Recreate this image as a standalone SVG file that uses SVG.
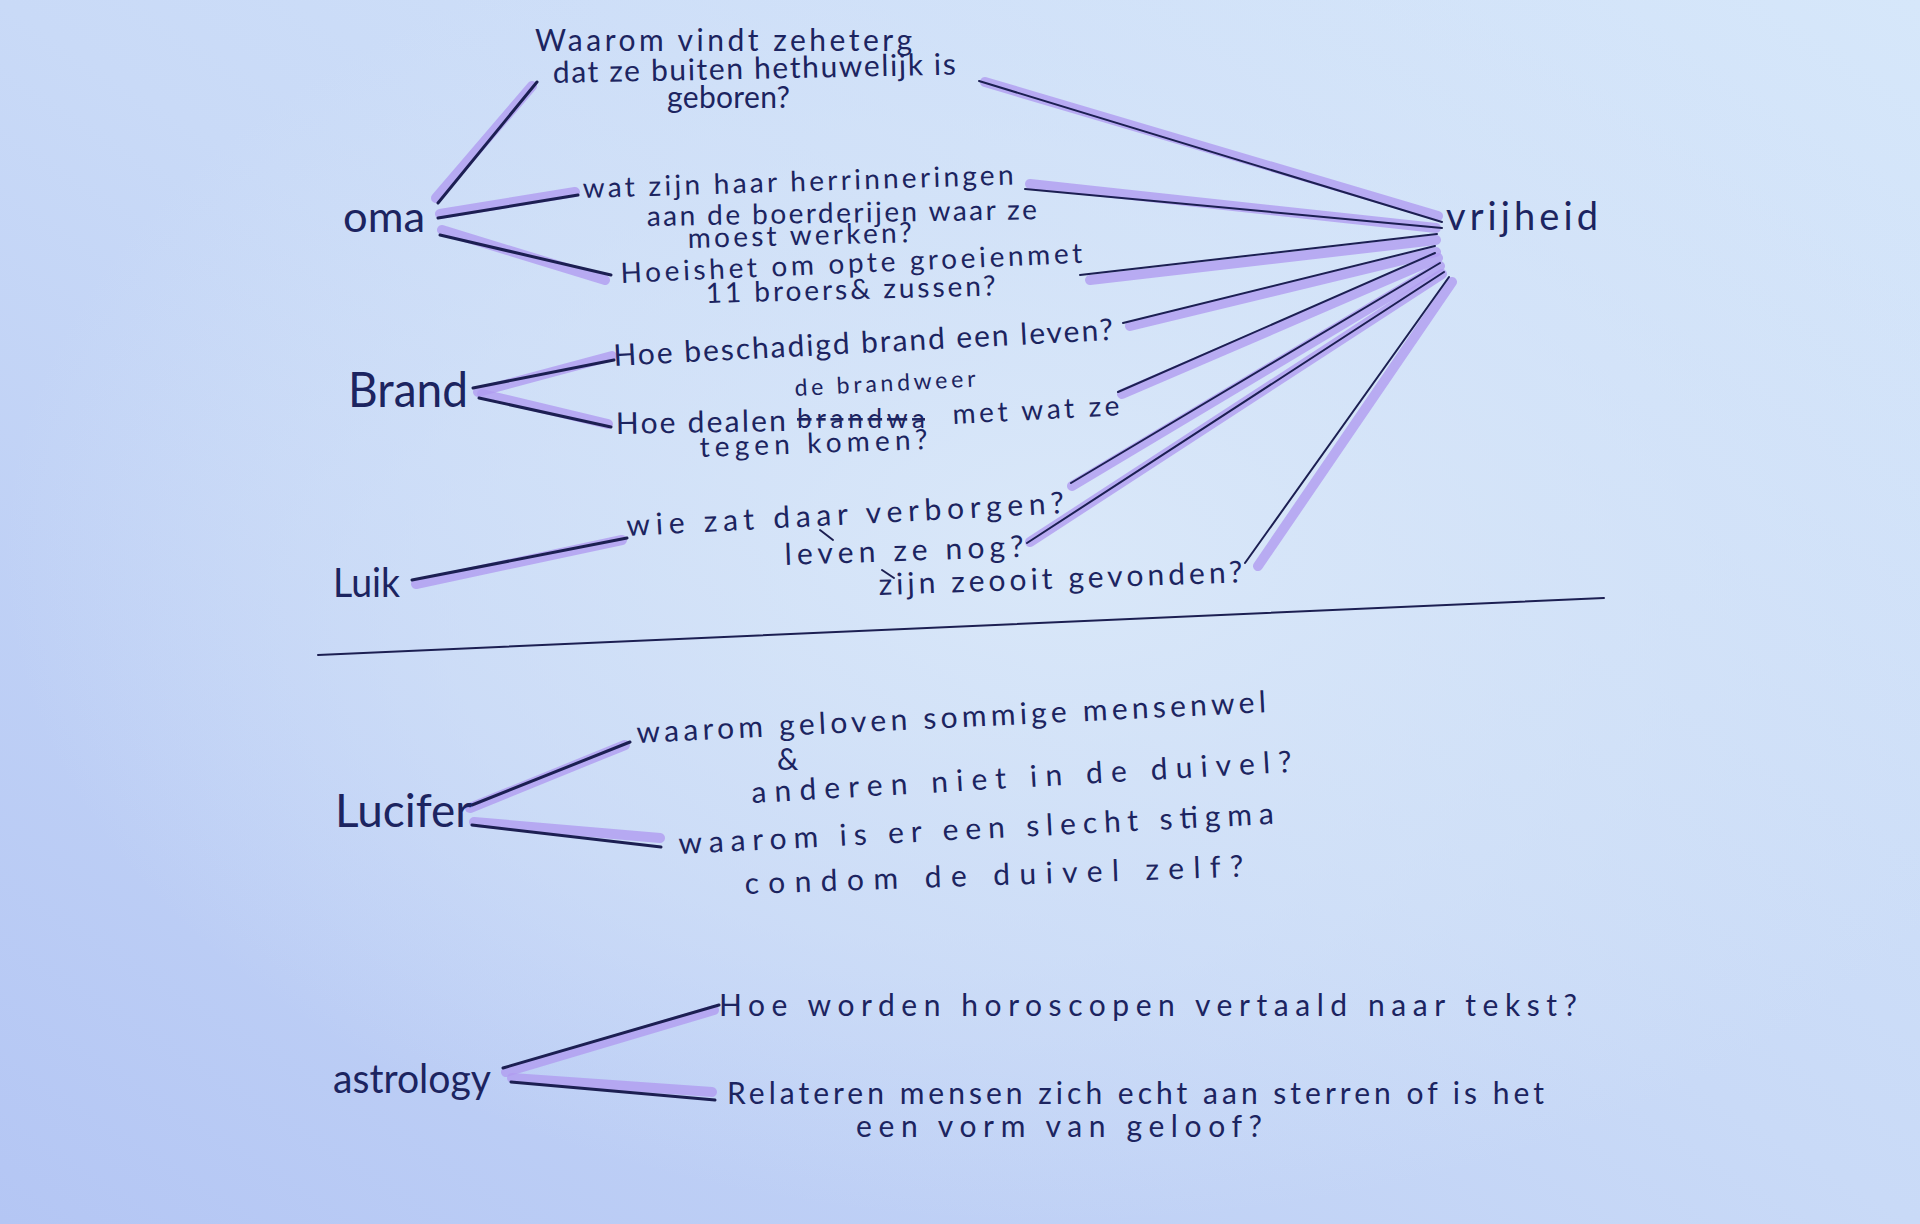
<svg xmlns="http://www.w3.org/2000/svg" width="1920" height="1224" viewBox="0 0 1920 1224">
<defs>
<linearGradient id="bg" x1="1" y1="0" x2="0" y2="1">
<stop offset="0" stop-color="#d6e7fa"/>
<stop offset="0.5" stop-color="#c9daf7"/>
<stop offset="1" stop-color="#b4c6f4"/>
</linearGradient>
<radialGradient id="glow" cx="0.55" cy="0.45" r="0.55">
<stop offset="0" stop-color="#dbe9f9" stop-opacity="0.9"/>
<stop offset="0.6" stop-color="#d6e5f8" stop-opacity="0.5"/>
<stop offset="1" stop-color="#d6e5f8" stop-opacity="0"/>
</radialGradient>
<style>
text{font-family:"Lato","Open Sans",sans-serif;fill:#1c2460;}
.n{font-size:42px}
.q{font-size:30px}
.s{font-size:28px}
.l{font-size:30px}
.hl{stroke:#b09cf0;stroke-width:10;stroke-linecap:round;fill:none;opacity:.8}
.ln{stroke:#1c1f52;stroke-width:3;stroke-linecap:round;fill:none}
.thin{stroke-width:2}
</style>
</defs>
<rect width="1920" height="1224" fill="url(#bg)"/>
<rect width="1920" height="1224" fill="url(#glow)"/>

<g id="connectors">
  <path class="hl" d="M436 198 L532 86"/>
  <path class="hl" d="M440 214 L575 192"/>
  <path class="hl" d="M442 230 L605 280"/>
  <path class="hl" d="M478 392 L612 356"/>
  <path class="hl" d="M482 394 L608 424"/>
  <path class="hl" d="M416 584 L622 540"/>
  <path class="hl" d="M470 808 L625 745"/>
  <path class="hl" d="M474 822 L660 838"/>
  <path class="hl" d="M506 1072 L714 1010"/>
  <path class="hl" d="M512 1078 L712 1092"/>
  <path class="hl" d="M985 82 L1438 216"/>
  <path class="hl" d="M1030 184 L1436 228"/>
  <path class="hl" d="M1090 280 L1436 240"/>
  <path class="hl" d="M1130 326 L1436 252"/>
  <path class="hl" d="M1122 394 L1438 258"/>
  <path class="hl" d="M1072 486 L1440 266"/>
  <path class="hl" d="M1030 542 L1442 274"/>
  <path class="hl" d="M1258 566 L1452 282"/>
  <path class="ln" d="M438 203 L537 82"/>
  <path class="ln" d="M438 218 L578 195"/>
  <path class="ln" d="M440 235 L611 275"/>
  <path class="ln" d="M473 388 L614 360"/>
  <path class="ln" d="M479 398 L611 427"/>
  <path class="ln" d="M412 580 L627 538"/>
  <path class="ln" d="M472 805 L630 742"/>
  <path class="ln" d="M472 825 L661 847"/>
  <path class="ln" d="M503 1068 L719 1005"/>
  <path class="ln" d="M511 1082 L715 1100"/>
  <path class="ln thin" d="M979 81 L1442 222"/>
  <path class="ln thin" d="M1025 189 L1442 228"/>
  <path class="ln thin" d="M1080 275 L1437 234"/>
  <path class="ln thin" d="M1123 323 L1435 246"/>
  <path class="ln thin" d="M1118 392 L1435 253"/>
  <path class="ln thin" d="M1071 483 L1440 263"/>
  <path class="ln thin" d="M1027 543 L1444 272"/>
  <path class="ln thin" d="M1245 563 L1449 277"/>
  <path class="ln thin" d="M820 530 L833 540"/>
  <path class="ln thin" d="M882 570 L894 578"/>
  <path class="ln thin" d="M318 655 L1604 598"/>
</g>

<g id="node-oma"><text class="n" x="343" y="232" textLength="82" lengthAdjust="spacingAndGlyphs">oma</text></g>
<g id="node-brand"><text x="348" y="407" font-size="48" textLength="120" lengthAdjust="spacingAndGlyphs">Brand</text></g>
<g id="node-luik"><text x="333" y="597" font-size="40" textLength="67" lengthAdjust="spacingAndGlyphs">Luik</text></g>
<g id="node-vrijheid"><text x="1446" y="230" font-size="38" textLength="152" lengthAdjust="spacing">vrijheid</text></g>
<g id="node-lucifer"><text x="335" y="827" font-size="46" textLength="137" lengthAdjust="spacingAndGlyphs">Lucifer</text></g>
<g id="node-astrology"><text x="333" y="1093" font-size="40" textLength="158" lengthAdjust="spacingAndGlyphs">astrology</text></g>

<g id="q-buiten-huwelijk">
  <text class="q" x="535" y="51" textLength="377" lengthAdjust="spacing">Waarom vindt zeheterg</text>
  <text class="q" x="553" y="83" textLength="403" lengthAdjust="spacing" transform="rotate(-1.2 553 83)">dat ze buiten hethuwelijk is</text>
  <text class="q" x="667" y="108" textLength="123" lengthAdjust="spacing">geboren?</text>
</g>
<g id="q-herinneringen">
  <text class="s" x="583" y="198" textLength="431" lengthAdjust="spacing" transform="rotate(-1.8 583 198)">wat zijn haar herrinneringen</text>
  <text class="s" x="647" y="226" textLength="390" lengthAdjust="spacing" transform="rotate(-1 647 226)">aan de boerderijen waar ze</text>
  <text class="s" x="688" y="248" textLength="224" lengthAdjust="spacing" transform="rotate(-1.5 688 248)">moest werken?</text>
</g>
<g id="q-opgroeien">
  <text class="s" x="621" y="283" textLength="462" lengthAdjust="spacing" transform="rotate(-2.5 621 283)">Hoeishet om opte groeienmet</text>
  <text class="s" x="706" y="303" textLength="290" lengthAdjust="spacing" transform="rotate(-1.5 706 303)">11 broers&amp; zussen?</text>
</g>
<g id="q-beschadigd">
  <text class="q" x="614" y="366" textLength="500" lengthAdjust="spacing" transform="rotate(-3 614 366)">Hoe beschadigd brand een leven?</text>
</g>
<g id="q-brandweer">
  <text x="795" y="396" font-size="23" textLength="181" lengthAdjust="spacing" transform="rotate(-3 795 396)">de brandweer</text>
  <text class="q" x="616" y="434" textLength="170" lengthAdjust="spacing" transform="rotate(-1 616 434)">Hoe dealen</text>
  <text x="797" y="428" font-size="26" textLength="128" lengthAdjust="spacing" text-decoration="line-through">brandwa</text>
  <text class="s" x="953" y="424" textLength="167" lengthAdjust="spacing" transform="rotate(-3 953 424)">met wat ze</text>
  <text class="s" x="700" y="457" textLength="228" lengthAdjust="spacing" transform="rotate(-2 700 457)">tegen komen?</text>
</g>
<g id="q-verborgen">
  <text class="q" x="627" y="536" textLength="438" lengthAdjust="spacing" transform="rotate(-3 627 536)">wie zat daar verborgen?</text>
</g>
<g id="q-leven">
  <text class="q" x="785" y="565" textLength="239" lengthAdjust="spacing" transform="rotate(-2 785 565)">leven ze nog?</text>
</g>
<g id="q-gevonden">
  <text class="q" x="879" y="595" textLength="364" lengthAdjust="spacing" transform="rotate(-2 879 595)">zijn zeooit gevonden?</text>
</g>
<g id="q-geloven">
  <text class="l" x="637" y="743" textLength="630" lengthAdjust="spacing" transform="rotate(-2.8 637 743)">waarom geloven sommige mensenwel</text>
  <text x="777" y="770" font-size="30">&amp;</text>
  <text class="l" x="752" y="803" textLength="541" lengthAdjust="spacing" transform="rotate(-3.3 752 803)">anderen niet in de duivel?</text>
</g>
<g id="q-stigma">
  <text class="l" x="679" y="854" textLength="596" lengthAdjust="spacing" transform="rotate(-2.9 679 854)">waarom is er een slecht stigma</text>
  <text class="l" x="745" y="894" textLength="499" lengthAdjust="spacing" transform="rotate(-2 745 894)">condom de duivel zelf?</text>
</g>
<g id="q-horoscopen">
  <text class="l" x="719" y="1016" textLength="858" lengthAdjust="spacing">Hoe worden horoscopen vertaald naar tekst?</text>
</g>
<g id="q-sterren">
  <text class="l" x="727" y="1104" textLength="817" lengthAdjust="spacing">Relateren mensen zich echt aan sterren of is het</text>
  <text class="l" x="856" y="1137" textLength="406" lengthAdjust="spacing">een vorm van geloof?</text>
</g>
</svg>
